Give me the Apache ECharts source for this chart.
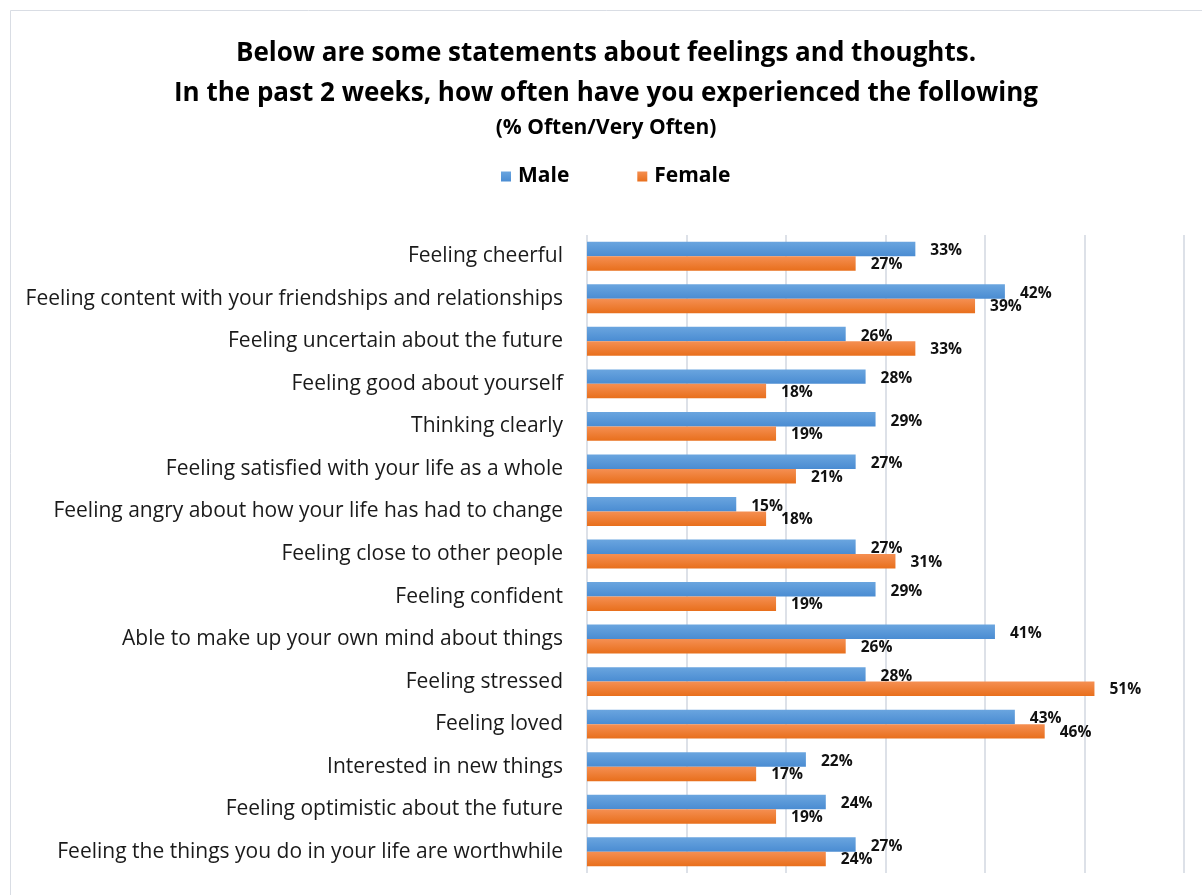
<!DOCTYPE html>
<html>
<head>
<meta charset="utf-8">
<script src="https://cdn.jsdelivr.net/npm/echarts@6/dist/echarts.min.js"></script>
<style>
  html, body { margin: 0; padding: 0; background: #ffffff; }
  #chart { width: 1202px; height: 895px; }
</style>
</head>
<body>
<div id="chart"></div>
<script>
// Survey statements, top to bottom
const categories = [
  'Feeling cheerful',
  'Feeling content with your friendships and relationships',
  'Feeling uncertain about the future',
  'Feeling good about yourself',
  'Thinking clearly',
  'Feeling satisfied with your life as a whole',
  'Feeling angry about how your life has had to change',
  'Feeling close to other people',
  'Feeling confident',
  'Able to make up your own mind about things',
  'Feeling stressed',
  'Feeling loved',
  'Interested in new things',
  'Feeling optimistic about the future',
  'Feeling the things you do in your life are worthwhile'
];

// % answering Often / Very Often
const maleValues   = [33, 42, 26, 28, 29, 27, 15, 27, 29, 41, 28, 43, 22, 24, 27];
const femaleValues = [27, 39, 33, 18, 19, 21, 18, 31, 19, 26, 51, 46, 17, 19, 24];

const seriesNames = ['Male', 'Female'];

const FONT = '"Open Sans", Lato, sans-serif';

function vGrad(top, bottom) {
  return new echarts.graphic.LinearGradient(0, 0, 0, 1, [
    { offset: 0, color: top },
    { offset: 1, color: bottom }
  ]);
}

const chart = echarts.init(document.getElementById('chart'), null, { renderer: 'canvas' });

function valueLabel(dy) {
  return {
    show: true,
    position: 'right',
    distance: 15,
    offset: [0, dy],
    formatter: '{c}%',
    fontFamily: FONT,
    fontWeight: 'bold',
    fontSize: 15.5,
    color: '#111111'
  };
}

chart.setOption({
  backgroundColor: '#ffffff',
  animation: false,
  title: {
    text: 'Below are some statements about feelings and thoughts.\nIn the past 2 weeks, how often have you experienced the following',
    subtext: '(% Often/Very Often)',
    left: 601,
    top: 29,
    itemGap: 4,
    textAlign: 'center',
    textStyle: {
      fontFamily: FONT,
      fontWeight: 'bold',
      fontSize: 26,
      lineHeight: 40,
      color: '#000000'
    },
    subtextStyle: {
      fontFamily: FONT,
      fontWeight: 'bold',
      fontSize: 21,
      color: '#000000'
    }
  },
  legend: {
    top: 161,
    left: 496,
    data: seriesNames,
    icon: 'rect',
    itemWidth: 10,
    itemHeight: 10,
    itemGap: 68,
    textStyle: {
      fontFamily: FONT,
      fontWeight: 'bold',
      fontSize: 21,
      color: '#000000',
      padding: [0, 0, 0, 2]
    }
  },
  graphic: [{
    type: 'rect',
    silent: true,
    shape: { x: 10.5, y: 10.5, width: 1300, height: 1000 },
    style: { fill: 'none', stroke: '#d9dde4', lineWidth: 1 },
    z: -10
  }],
  grid: {
    left: 587,
    right: 18,
    top: 235,
    bottom: 22,
    containLabel: false
  },
  xAxis: {
    type: 'value',
    min: 0,
    max: 60,
    interval: 10,
    axisLine: { show: false },
    axisTick: { show: false },
    axisLabel: { show: false },
    splitLine: { show: true, lineStyle: { color: '#dde1e8', width: 2 } }
  },
  yAxis: {
    type: 'category',
    data: categories,
    inverse: true,
    axisLine: { show: false },
    axisTick: { show: false },
    axisLabel: {
      margin: 24,
      fontFamily: FONT,
      fontSize: 21,
      color: '#1a1a1a'
    }
  },
  series: [
    {
      name: seriesNames[0],
      type: 'bar',
      data: maleValues,
      barGap: '0%',
      barCategoryGap: '32%',
      itemStyle: { color: vGrad('#6aa5df', '#4a8cd2') },
      label: valueLabel(2)
    },
    {
      name: seriesNames[1],
      type: 'bar',
      data: femaleValues,
      itemStyle: { color: vGrad('#f58f52', '#e86f1c') },
      label: valueLabel(1)
    }
  ]
});
</script>
</body>
</html>
